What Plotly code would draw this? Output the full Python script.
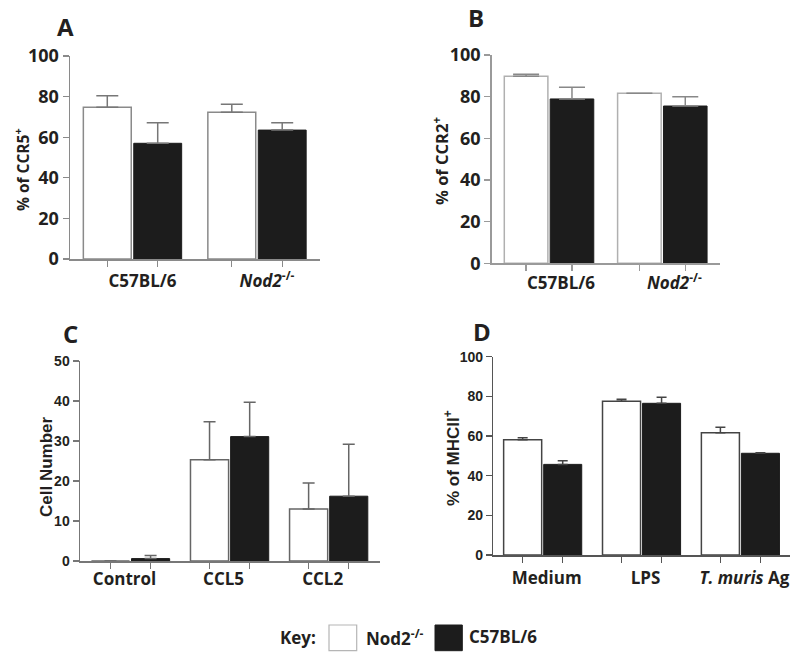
import plotly.graph_objects as go

# ---------------- data ----------------
series_names = ["Nod2<sup>-/-</sup>", "C57BL/6"]
key_label = "Key:"

panel_letters = ["A", "B", "C", "D"]
y_titles = ["% of CCR5<sup>+</sup>", "% of CCR2<sup>+</sup>", "Cell Number", "% of MHCII<sup>+</sup>"]

a_categories = ["C57BL/6", "<i>Nod2</i><sup>-/-</sup>"]
a_nod2 = [74.7, 72.3]
a_nod2_err = [5.7, 3.9]
a_c57 = [57.0, 63.5]
a_c57_err = [10.1, 3.6]

b_categories = ["C57BL/6", "<i>Nod2</i><sup>-/-</sup>"]
b_nod2 = [89.8, 81.6]
b_nod2_err = [0.9, 0.0]
b_c57 = [78.9, 75.5]
b_c57_err = [5.6, 4.5]

c_categories = ["Control", "CCL5", "CCL2"]
c_nod2 = [0.0, 25.3, 13.0]
c_nod2_err = [0.0, 9.5, 6.5]
c_c57 = [0.6, 31.1, 16.2]
c_c57_err = [0.8, 8.6, 13.0]

d_categories = ["Medium", "LPS", "<i>T. muris</i> Ag"]
d_nod2 = [58.1, 77.5, 61.7]
d_nod2_err = [1.0, 1.0, 2.7]
d_c57 = [45.7, 76.5, 51.3]
d_c57_err = [1.8, 3.0, 0.3]

y_max = [100, 100, 50, 100]
y_step = [20, 20, 10, 20]

# ---------------- style ----------------
W, H = 800, 660
TXT = "#231f20"
BLACK = "#1c1c1c"
BARGAP = 0.19
BARGROUPGAP = 0.05


def px_x(p):
    return p / W


def px_y(p):
    return 1 - p / H


panels = [
    dict(cats=a_categories, white=a_nod2, werr=a_nod2_err, black=a_c57, berr=a_c57_err,
         xdom=(70, 320), ydom=(56, 259), xr=(-0.502, 1.506),
         tickfam="Open Sans", ticksize=18, catsize=17, shift=10, catlen=6,
         axcol="#8a8a8a", wline="#8a8a8a", errcol="#777777", capw=11,
         title_xy=(65, 27), ytitle_xy=(22, 170), ytfam="Open Sans", ytsize=15.5),
    dict(cats=b_categories, white=b_nod2, werr=b_nod2_err, black=b_c57, berr=b_c57_err,
         xdom=(491.7, 720), ydom=(55, 263.3), xr=(-0.506, 1.509),
         tickfam="Open Sans", ticksize=18, catsize=17, shift=12, catlen=4,
         axcol="#9a9a9a", wline="#b0b0b0", errcol="#888888", capw=13,
         title_xy=(476, 17), ytitle_xy=(441, 161), ytfam="Open Sans", ytsize=16.5),
    dict(cats=c_categories, white=c_nod2, werr=c_nod2_err, black=c_c57, berr=c_c57_err,
         xdom=(80, 380), ydom=(361, 561), xr=(-0.510, 2.518),
         tickfam="Liberation Sans", ticksize=14, catsize=17, shift=-6, catlen=2,
         axcol="#777777", wline="#666666", errcol="#666666", capw=6,
         title_xy=(70, 333), ytitle_xy=(47, 467), ytfam="Liberation Sans", ytsize=17),
    dict(cats=d_categories, white=d_nod2, werr=d_nod2_err, black=d_c57, berr=d_c57_err,
         xdom=(493.3, 790), ydom=(356.7, 555), xr=(-0.4995, 2.5015),
         tickfam="Liberation Sans", ticksize=14, catsize=17, shift=4, catlen=7,
         axcol="#555555", wline="#444444", errcol="#444444", capw=5,
         title_xy=(481.7, 331.7), ytitle_xy=(452, 458), ytfam="Liberation Sans", ytsize=17),
]

fig = go.Figure()
annotations = []
layout_axes = {}

for k, p in enumerate(panels):
    n = len(p["cats"])
    xs = list(range(n))
    sfx = "" if k == 0 else str(k + 1)
    xa, ya = "x" + sfx, "y" + sfx

    fig.add_trace(go.Bar(
        x=xs, y=p["white"], name=series_names[0], xaxis=xa, yaxis=ya,
        marker=dict(color="white", line=dict(color=p["wline"], width=1.5)),
        error_y=dict(type="data", symmetric=False, array=p["werr"], arrayminus=[0] * n,
                     color=p["errcol"], thickness=1.5, width=p["capw"]),
        showlegend=False))
    fig.add_trace(go.Bar(
        x=xs, y=p["black"], name=series_names[1], xaxis=xa, yaxis=ya,
        marker=dict(color=BLACK, line=dict(color=BLACK, width=1)),
        error_y=dict(type="data", symmetric=False, array=p["berr"], arrayminus=[0] * n,
                     color=p["errcol"], thickness=1.5, width=p["capw"]),
        showlegend=False))

    off = (1 - BARGAP) / 4
    minor_vals = []
    for i in xs:
        minor_vals += [i - off, i + off]

    layout_axes["xaxis" + sfx] = dict(
        domain=[px_x(p["xdom"][0]), px_x(p["xdom"][1])],
        anchor=ya, range=list(p["xr"]), automargin=False,
        tickmode="array", tickvals=xs, ticktext=p["cats"],
        ticks="outside", ticklen=p["catlen"], tickcolor="rgba(0,0,0,0)",
        ticklabelshift=p["shift"],
        tickfont=dict(family="Open Sans", size=p["catsize"], color=TXT, weight="bold"),
        minor=dict(tickmode="array", tickvals=minor_vals, ticks="outside", ticklen=6,
                   tickcolor=p["axcol"], tickwidth=1.2, showgrid=False),
        showline=True, linecolor=p["axcol"], linewidth=1.5,
        showgrid=False, zeroline=False, fixedrange=True)
    layout_axes["yaxis" + sfx] = dict(
        domain=[px_y(p["ydom"][1]), px_y(p["ydom"][0])],
        anchor=xa, range=[0, y_max[k]], automargin=False,
        tickmode="linear", tick0=0, dtick=y_step[k],
        ticks="outside", ticklen=6, tickcolor=p["axcol"], tickwidth=1.2,
        tickfont=dict(family=p["tickfam"], size=p["ticksize"], color=TXT, weight="bold"),
        showline=True, linecolor=p["axcol"], linewidth=1.5,
        showgrid=False, zeroline=False, fixedrange=True)

    annotations.append(dict(
        text=panel_letters[k], x=px_x(p["title_xy"][0]), y=px_y(p["title_xy"][1]),
        xref="paper", yref="paper", showarrow=False, xanchor="center", yanchor="middle",
        font=dict(family="Open Sans", size=24, color=TXT, weight="bold")))
    annotations.append(dict(
        text=y_titles[k], x=px_x(p["ytitle_xy"][0]), y=px_y(p["ytitle_xy"][1]),
        xref="paper", yref="paper", showarrow=False, textangle=-90,
        xanchor="center", yanchor="middle",
        font=dict(family=p["ytfam"], size=p["ytsize"], color=TXT, weight="bold")))

# ---------------- key ----------------
key_font = dict(family="Open Sans", size=17, color=TXT, weight="bold")
annotations.append(dict(text=key_label, x=px_x(278), y=px_y(637), xref="paper", yref="paper",
                        showarrow=False, xanchor="left", yanchor="middle", font=key_font))
annotations.append(dict(text=series_names[0], x=px_x(364), y=px_y(637), xref="paper", yref="paper",
                        showarrow=False, xanchor="left", yanchor="middle", font=key_font))
annotations.append(dict(text=series_names[1], x=px_x(467), y=px_y(636), xref="paper", yref="paper",
                        showarrow=False, xanchor="left", yanchor="middle", font=key_font))
shapes = [
    dict(type="rect", xref="paper", yref="paper",
         x0=px_x(329), x1=px_x(356.7), y0=px_y(650.7), y1=px_y(625),
         fillcolor="white", line=dict(color="#b5b5b5", width=1.2)),
    dict(type="rect", xref="paper", yref="paper",
         x0=px_x(435), x1=px_x(462.3), y0=px_y(650.7), y1=px_y(625),
         fillcolor=BLACK, line=dict(color=BLACK, width=1)),
]

fig.update_layout(
    width=W, height=H,
    margin=dict(l=0, r=0, t=0, b=0, autoexpand=False),
    paper_bgcolor="white", plot_bgcolor="white",
    barmode="group", bargap=BARGAP, bargroupgap=BARGROUPGAP,
    annotations=annotations, shapes=shapes,
    showlegend=False,
    **layout_axes)

fig.write_html("out.html",
               config={"displayModeBar": False, "staticPlot": True},
               post_script="document.body.style.margin='0';document.body.style.overflow='hidden';")
